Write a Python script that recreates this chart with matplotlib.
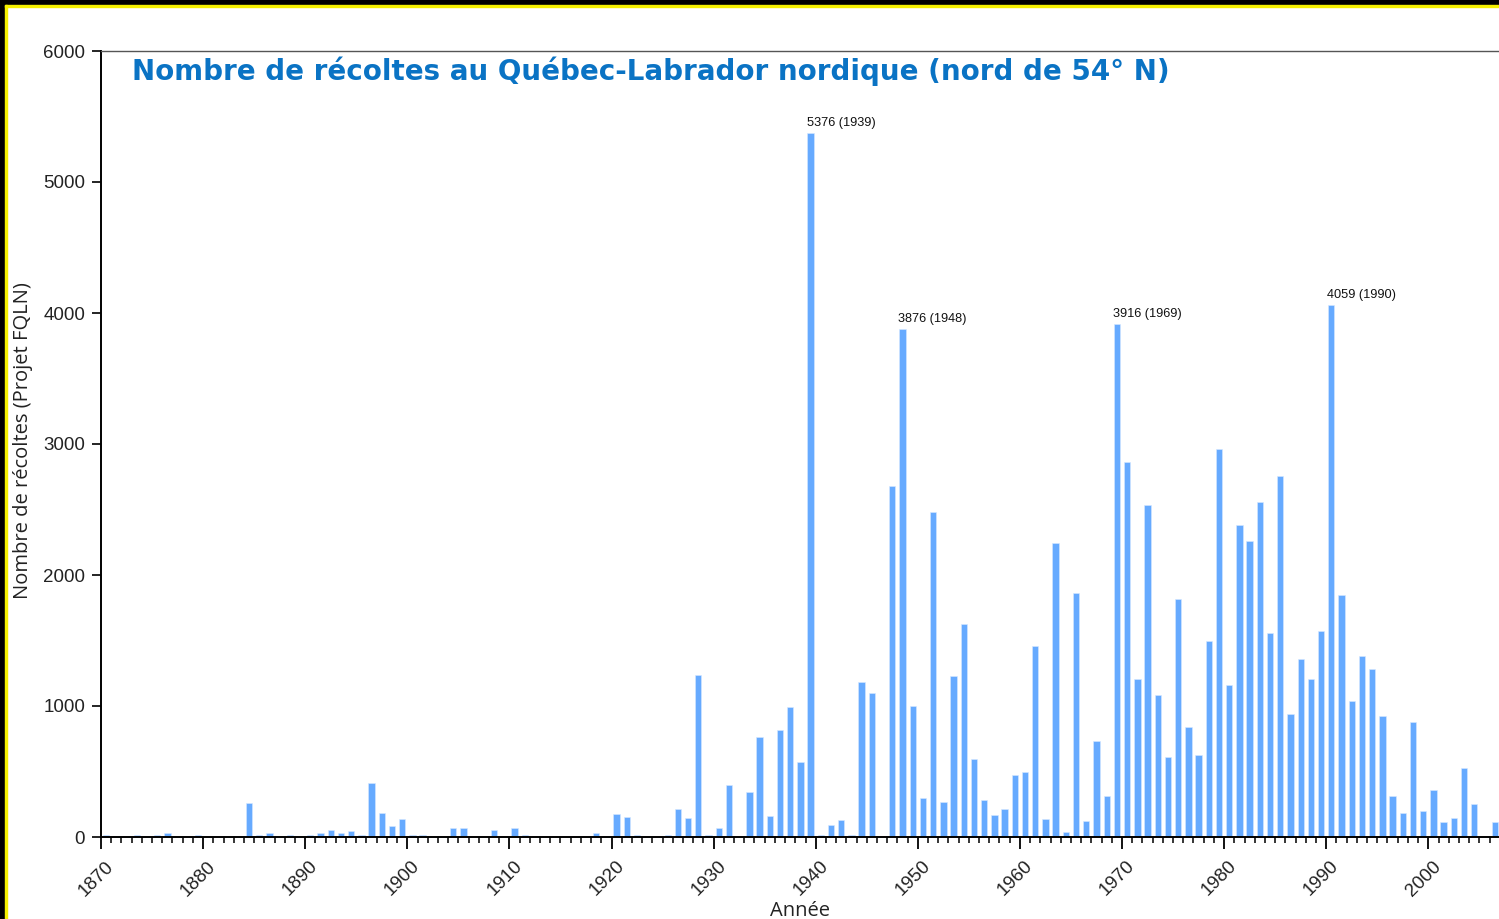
import numpy as np
import matplotlib
matplotlib.use("Agg")
import matplotlib.pyplot as plt
from matplotlib.patches import Rectangle
from matplotlib.ticker import MultipleLocator
from matplotlib.transforms import ScaledTranslation

# Harvest counts per year, 1870-2006
years = np.arange(1870, 2007)
counts = [
    18, 0, 0, 18, 0, 18, 30, 0, 0, 18,                  # 1870s
    0, 0, 0, 0, 262, 18, 30, 0, 18, 0,                  # 1880s
    18, 28, 55, 28, 45, 18, 412, 183, 86, 140,          # 1890s
    18, 18, 0, 0, 65, 65, 0, 0, 55, 0,                  # 1900s
    65, 18, 0, 0, 0, 0, 0, 0, 28, 0,                    # 1910s
    173, 150, 18, 0, 0, 18, 216, 148, 1240, 18,         # 1920s
    72, 400, 0, 346, 761, 160, 814, 990, 575, 5376,     # 1930s
    18, 94, 127, 18, 1186, 1097, 0, 2679, 3876, 1000,   # 1940s
    300, 2483, 270, 1229, 1623, 595, 280, 170, 214, 475,  # 1950s
    496, 1457, 134, 2242, 38, 1860, 123, 734, 311, 3916,  # 1960s
    2864, 1203, 2537, 1083, 614, 1814, 843, 625, 1498, 2960,  # 1970s
    1159, 2381, 2261, 2559, 1555, 2755, 941, 1356, 1203, 1574,  # 1980s
    4059, 1845, 1035, 1380, 1283, 925, 314, 185, 875, 195,  # 1990s
    355, 113, 145, 530, 255, 0, 117,                    # 2000s
]
peak_years = [1939, 1948, 1969, 1990]

title = "Nombre de récoltes au Québec-Labrador nordique (nord de 54° N)"
ylabel = "Nombre de récoltes (Projet FQLN)"
xlabel = "Année"

W, H = 1499, 919
fig = plt.figure(figsize=(W / 100, H / 100), dpi=100)
fig.patch.set_facecolor("white")

# black / yellow frame along top and left edge
fig.patches.append(Rectangle((0, 1 - 5 / H), 1, 5 / H, transform=fig.transFigure,
                             color="black", zorder=0))
fig.patches.append(Rectangle((0, 0), 5 / W, 1, transform=fig.transFigure,
                             color="black", zorder=0))
fig.patches.append(Rectangle((5 / W, 1 - 7 / H), 1, 2 / H, transform=fig.transFigure,
                             color="#f5f000", zorder=0))
fig.patches.append(Rectangle((5 / W, 0), 2 / W, 1 - 5 / H, transform=fig.transFigure,
                             color="#f5f000", zorder=0))

x0, x1 = 101, 1499.8
y_top, y_bot = 51, 837
ax = fig.add_axes([x0 / W, (H - y_bot) / H, (x1 - x0) / W, (y_bot - y_top) / H])

ax.bar(years + 0.5, counts, width=0.62, color="#66aaff",
       edgecolor="#d6e8ff", linewidth=0.4, zorder=2)

ax.set_xlim(1870, 2007)
ax.set_ylim(0, 6000)

ax.xaxis.set_major_locator(MultipleLocator(10))
ax.xaxis.set_minor_locator(MultipleLocator(1))
ax.yaxis.set_major_locator(MultipleLocator(1000))

ax.tick_params(axis="x", which="major", length=8.5, width=1.3, color="black",
               labelsize=13.5, pad=5)
ax.tick_params(axis="x", which="minor", length=4.3, width=1.1, color="black")
ax.tick_params(axis="y", which="major", length=6.5, width=1.2, color="black",
               labelsize=13.5, pad=5)
shift = ScaledTranslation(4 / 100, -2 / 100, fig.dpi_scale_trans)
for lab in ax.get_xticklabels():
    lab.set_rotation(45)
    lab.set_ha("right")
    lab.set_va("top")
    lab.set_rotation_mode("anchor")
    lab.set_family("Liberation Sans")
    lab.set_color("#222222")
    lab.set_transform(lab.get_transform() + shift)
for lab in ax.get_yticklabels():
    lab.set_family("Liberation Sans")
    lab.set_color("#222222")

for side in ("left", "bottom"):
    ax.spines[side].set_color("black")
    ax.spines[side].set_linewidth(1.4)
for side in ("top", "right"):
    ax.spines[side].set_color("#555555")
    ax.spines[side].set_linewidth(1.0)

# axis titles placed at fixed pixel positions
fig.text(800 / W, 1 - 911 / H, xlabel, family="Open Sans", fontsize=14.5,
         color="#222222", ha="center", va="center")
fig.text(23 / W, 1 - 441 / H, ylabel, family="Open Sans", fontsize=14.5,
         color="#222222", ha="center", va="center", rotation=90)

ax.text((132 - x0) / (x1 - x0), (y_bot - 80) / (y_bot - y_top), title,
        transform=ax.transAxes, ha="left", va="baseline",
        fontsize=20, fontweight="bold", color="#0a73c4", family="DejaVu Sans")

for yr in peak_years:
    v = counts[yr - 1870]
    ax.annotate(f"{v} ({yr})", xy=(yr + 0.1, v), xytext=(0, 3),
                textcoords="offset points", ha="left", va="bottom",
                fontsize=9.2, family="Liberation Sans", color="#111111")

fig.savefig("out.png", dpi=100)
